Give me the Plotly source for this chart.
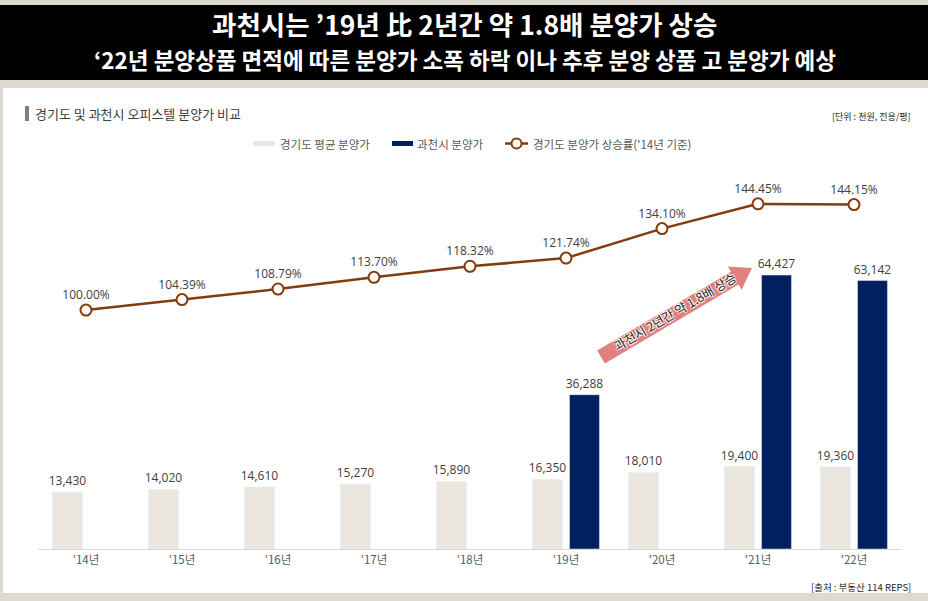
import math
import plotly.graph_objects as go

# ---------------- data ----------------
years = ["'14년", "'15년", "'16년", "'17년", "'18년", "'19년", "'20년", "'21년", "'22년"]
gyeonggi_price = [13430, 14020, 14610, 15270, 15890, 16350, 18010, 19400, 19360]
gwacheon_price = [None, None, None, None, None, 36288, None, 64427, 63142]
gyeonggi_rate = [100.00, 104.39, 108.79, 113.70, 118.32, 121.74, 134.10, 144.45, 144.15]
rate_labels = ["100.00%", "104.39%", "108.79%", "113.70%", "118.32%", "121.74%", "134.10%", "144.45%", "144.15%"]

title_1 = "과천시는 ’19년 比 2년간 약 1.8배 분양가 상승"
title_2 = "‘22년 분양상품 면적에 따른 분양가 소폭 하락 이나 추후 분양 상품 고 분양가 예상"
chart_title = "경기도 및 과천시 오피스텔 분양가 비교"
unit_text = "[단위 : 천원, 전용/평]"
source_text = "[출처 : 부동산 114 REPS]"
legend_names = ["경기도 평균 분양가", "과천시 분양가", "경기도 분양가 상승률('14년 기준)"]
arrow_text = "과천시 2년간 약 1.8배 상승"

# ---------------- styling ----------------
FIG_W, FIG_H = 928, 601
L, R, T, B = 38, 26, 160, 52
PW, PH = FIG_W - L - R, FIG_H - T - B

BG = "#dedad2"
BEIGE = "#ebe7de"
NAVY = "#002060"
BROWN = "#843c0c"
SALMON = "#e08080"
FONT = "Open Sans, Noto Sans CJK KR, sans-serif"
KFONT = "Noto Sans CJK KR, sans-serif"


def px(x):
    return (x - L) / PW


def py(y):
    return (FIG_H - B - y) / PH


fig = go.Figure()

fig.add_trace(go.Bar(
    x=years, y=gyeonggi_price, name=legend_names[0], marker_color=BEIGE,
    texttemplate="%{y:,}", textposition="outside", cliponaxis=False, constraintext="none",
    textfont=dict(size=12, color="#404040", family=FONT), showlegend=False,
))
fig.add_trace(go.Bar(
    x=years, y=gwacheon_price, name=legend_names[1], marker_color=NAVY,
    texttemplate="%{y:,}", textposition="outside", cliponaxis=False, constraintext="none",
    textfont=dict(size=12, color="#404040", family=FONT), showlegend=False,
))
fig.add_trace(go.Scatter(
    x=years, y=gyeonggi_rate, name=legend_names[2], yaxis="y2",
    mode="lines+markers+text", text=rate_labels, textposition="top center",
    textfont=dict(size=12, color="#404040", family=FONT),
    line=dict(color=BROWN, width=2.5),
    marker=dict(size=11, color="white", line=dict(color=BROWN, width=2)),
    cliponaxis=False, showlegend=False,
))

shapes = []
# white panel and black title band
shapes.append(dict(type="rect", xref="paper", yref="paper", x0=px(3), x1=px(928), y0=py(593), y1=py(88),
                   fillcolor="white", line_width=0, layer="below"))
shapes.append(dict(type="rect", xref="paper", yref="paper", x0=px(0), x1=px(928), y0=py(80), y1=py(5),
                   fillcolor="black", line_width=0, layer="below"))
# chart title marker
shapes.append(dict(type="rect", xref="paper", yref="paper", x0=px(25), x1=px(29), y0=py(121), y1=py(106),
                   fillcolor="#808080", line_width=0))
# legend swatches
shapes.append(dict(type="rect", xref="paper", yref="paper", x0=px(253), x1=px(275), y0=py(146), y1=py(141),
                   fillcolor=BEIGE, line_width=0))
shapes.append(dict(type="rect", xref="paper", yref="paper", x0=px(392), x1=px(413), y0=py(146), y1=py(141),
                   fillcolor=NAVY, line_width=0))
shapes.append(dict(type="line", xref="paper", yref="paper", x0=px(505), x1=px(528), y0=py(143.5), y1=py(143.5),
                   line=dict(color=BROWN, width=2.5)))
shapes.append(dict(type="circle", xref="paper", yref="paper", x0=px(511.5), x1=px(521.5), y0=py(148.5), y1=py(138.5),
                   fillcolor="white", line=dict(color=BROWN, width=2)))

# thick arrow
x0a, y0a, x1a, y1a = 601, 357, 752, 268
dx, dy = x1a - x0a, y1a - y0a
ln = math.hypot(dx, dy)
ux, uy = dx / ln, dy / ln
nx, ny = -uy, ux
sw, hw, hl = 7.5, 13.5, 20
bx, by = x1a - ux * hl, y1a - uy * hl
pts = [
    (x0a + nx * sw, y0a + ny * sw),
    (bx + nx * sw, by + ny * sw),
    (bx + nx * hw, by + ny * hw),
    (x1a, y1a),
    (bx - nx * hw, by - ny * hw),
    (bx - nx * sw, by - ny * sw),
    (x0a - nx * sw, y0a - ny * sw),
]
path = "M " + " L ".join(f"{px(a):.5f},{py(b):.5f}" for a, b in pts) + " Z"
shapes.append(dict(type="path", xref="paper", yref="paper", path=path, fillcolor=SALMON, line_width=0))

annotations = [
    dict(text=title_1, x=px(464), y=py(23.5), xref="paper", yref="paper", showarrow=False,
         font=dict(size=26.5, color="white", family=KFONT, weight="bold"), xanchor="center", yanchor="middle"),
    dict(text=title_2, x=px(465), y=py(58.5), xref="paper", yref="paper", showarrow=False,
         font=dict(size=22.5, color="white", family=KFONT, weight="bold"), xanchor="center", yanchor="middle"),
    dict(text=chart_title, x=px(33), y=py(114), xref="paper", yref="paper", showarrow=False,
         font=dict(size=13, color="#404040", family=KFONT), xanchor="left", yanchor="middle"),
    dict(text=unit_text, x=px(913), y=py(117), xref="paper", yref="paper", showarrow=False,
         font=dict(size=9, color="#262626", family=KFONT), xanchor="right", yanchor="middle"),
    dict(text=source_text, x=px(913), y=py(587), xref="paper", yref="paper", showarrow=False,
         font=dict(size=9.5, color="#262626", family=KFONT), xanchor="right", yanchor="middle"),
    dict(text=legend_names[0], x=px(278), y=py(143.5), xref="paper", yref="paper", showarrow=False,
         font=dict(size=11.5, color="#595959", family=KFONT), xanchor="left", yanchor="middle"),
    dict(text=legend_names[1], x=px(415), y=py(143.5), xref="paper", yref="paper", showarrow=False,
         font=dict(size=11.5, color="#595959", family=KFONT), xanchor="left", yanchor="middle"),
    dict(text=legend_names[2], x=px(531), y=py(143.5), xref="paper", yref="paper", showarrow=False,
         font=dict(size=11.5, color="#595959", family=KFONT), xanchor="left", yanchor="middle"),
    dict(text=arrow_text, x=px(674), y=py(311), xref="paper", yref="paper", showarrow=False,
         textangle=-30.5,
         font=dict(size=12.5, color="#262626", family=KFONT,
                   shadow="1px 1px 1px white, -1px -1px 1px white, 1px -1px 1px white, -1px 1px 1px white"),
         xanchor="center", yanchor="middle"),
]

fig.update_layout(
    width=FIG_W, height=FIG_H,
    margin=dict(l=L, r=R, t=T, b=B, pad=0),
    paper_bgcolor=BG, plot_bgcolor="rgba(0,0,0,0)",
    barmode="group", bargap=0.23, bargroupgap=0.19,
    showlegend=False,
    font=dict(family=FONT),
    xaxis=dict(type="category", range=[-0.5, 8.5], showgrid=False, zeroline=False,
               showline=True, linecolor="#d9d9d9", linewidth=1, ticks="",
               tickfont=dict(size=11.5, color="#595959", family=KFONT), fixedrange=True),
    yaxis=dict(range=[0, 91500], visible=False, showgrid=False, fixedrange=True),
    yaxis2=dict(range=[0, 162.8], overlaying="y", side="right", visible=False, showgrid=False, fixedrange=True),
    shapes=shapes,
    annotations=annotations,
)

fig.write_html("out.html", config={"displayModeBar": False},
               post_script="document.body.style.margin='0';document.body.style.overflow='hidden';")
